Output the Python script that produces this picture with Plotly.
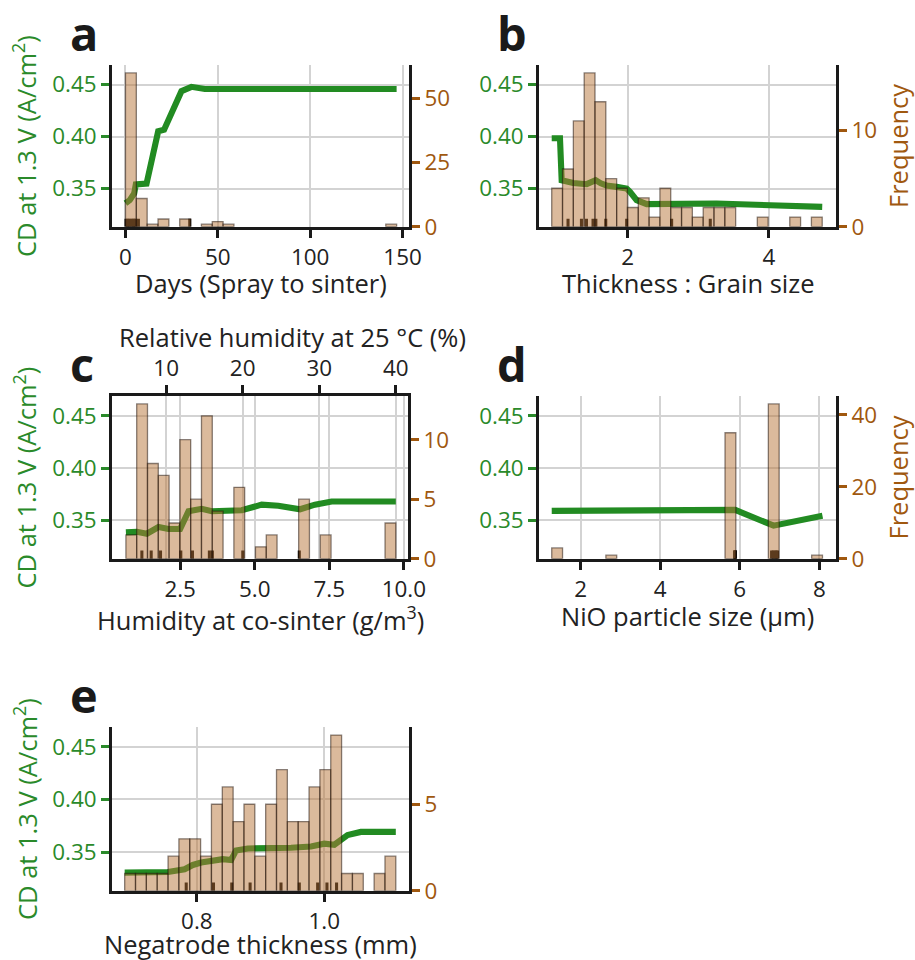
import numpy as np
import plotly.graph_objects as go

# design grid is 915 x 960; the page is drawn slightly larger and everything is stretched to it
BASE_W, BASE_H = 915, 960
W, H = 933, 978
SX, SY = W / BASE_W, H / BASE_H
FONT = "Open Sans"

# ---------------- data ----------------
N_BINS = 25
CD_RANGE = [0.3133, 0.4686]
CD_TICKS = [0.35, 0.40, 0.45]

# a: days between spraying and sintering
DAYS_HIST_RANGE = (0.0, 146.8)
DAYS_COUNTS = [60, 11, 1, 3, 0, 3, 0, 1, 2, 1, 0, 0, 0, 0, 0, 0, 0, 0, 0, 0, 0, 0, 0, 0, 1]
DAYS_PD_X = [0.0, 2.3, 4.7, 5.6, 11.4, 17.7, 20.9, 30.3, 35.7, 43.0, 146.8]
DAYS_PD_Y = [0.3358, 0.3388, 0.3452, 0.3540, 0.3548, 0.4050, 0.4065, 0.4436, 0.4478, 0.4457, 0.4457]
DAYS_DECILES = [0.3, 1.2, 2.0, 3.0, 4.0, 4.6, 5.5, 7.0, 34.8]
DAYS_XTICKS = [0, 50, 100, 150]
DAYS_FTICKS = [0, 25, 50]

# b: thickness to grain size ratio
RATIO_HIST_RANGE = (0.925, 4.755)
RATIO_COUNTS = [4, 6, 11, 16, 13, 5, 4, 2, 3, 1, 4, 2, 2, 1, 2, 2, 2, 0, 0, 1, 0, 0, 1, 0, 1]
RATIO_PD_X = [0.925, 1.042, 1.066, 1.231, 1.42, 1.547, 1.62, 1.70, 1.844, 1.986, 2.033, 2.127,
              2.27, 2.976, 3.26, 4.755]
RATIO_PD_Y = [0.3984, 0.3984, 0.3580, 0.3554, 0.3542, 0.3580, 0.3550, 0.3530, 0.3516, 0.3500,
              0.3468, 0.3388, 0.3350, 0.3350, 0.3356, 0.3324]
RATIO_DECILES = [1.156, 1.346, 1.417, 1.51, 1.55, 1.69, 1.986, 2.623, 3.17]
RATIO_XTICKS = [2, 4]
RATIO_FTICKS = [0, 10]

# c: absolute humidity at co-sintering
HUM_HIST_RANGE = (0.681, 9.732)
HUM_COUNTS = [2, 13, 8, 7, 3, 10, 5, 12, 4, 0, 6, 0, 1, 2, 0, 0, 5, 0, 2, 0, 0, 0, 0, 0, 3]
HUM_PD_X = [0.681, 1.049, 1.384, 1.775, 2.11, 2.5, 2.78, 3.225, 3.56, 4.565, 5.234, 5.79,
            6.52, 7.02, 7.58, 9.732]
HUM_PD_Y = [0.3385, 0.3390, 0.3372, 0.3436, 0.3417, 0.3417, 0.3587, 0.3610, 0.3587, 0.3596,
            0.3650, 0.3640, 0.3606, 0.3650, 0.3680, 0.3680]
HUM_DECILES = [1.217, 1.529, 1.842, 2.522, 2.913, 3.48, 3.58, 4.6, 6.495]
HUM_XTICKS = [2.5, 5.0, 7.5, 10.0]
HUM_FTICKS = [0, 5, 10]
RH_TICKS = [10, 20, 30, 40]
RH_PER_GM3, RH_OFFSET = 3.896, 2.09   # relative humidity (%) at 25 °C vs g/m³

# d: NiO particle size
NIO_HIST_RANGE = (1.27, 8.08)
NIO_COUNTS = [3, 0, 0, 0, 0, 1, 0, 0, 0, 0, 0, 0, 0, 0, 0, 0, 35, 0, 0, 0, 43, 0, 0, 0, 1]
NIO_PD_X = [1.27, 5.884, 6.85, 8.08]
NIO_PD_Y = [0.3590, 0.3600, 0.3449, 0.3543]
NIO_DECILES = [5.88, 5.88, 5.88, 5.88, 6.80, 6.84, 6.88, 6.92, 6.95]
NIO_XTICKS = [2, 4, 6, 8]
NIO_FTICKS = [0, 20, 40]

# e: negatrode thickness
NEG_HIST_RANGE = (0.6867, 1.1123)
NEG_COUNTS = [1, 1, 1, 1, 2, 3, 3, 2, 5, 6, 4, 5, 2, 5, 7, 4, 4, 6, 7, 9, 1, 1, 0, 1, 2]
NEG_PD_X = [0.6867, 0.7546, 0.7807, 0.7937, 0.8068, 0.8225, 0.8407, 0.8538, 0.8616, 0.8799,
            0.9269, 0.9478, 0.9791, 1.0, 1.0157, 1.0366, 1.0574, 1.1123]
NEG_PD_Y = [0.3305, 0.3311, 0.3337, 0.3378, 0.3401, 0.3420, 0.3433, 0.3426, 0.3516, 0.3535,
            0.3532, 0.3542, 0.3554, 0.3580, 0.3570, 0.3663, 0.3692, 0.3692]
NEG_DECILES = [0.7833, 0.8261, 0.8548, 0.8836, 0.9321, 0.9608, 0.9896, 1.0042, 1.0193]
NEG_XTICKS = [0.8, 1.0]
NEG_FTICKS = [0, 5]

# ---------------- styling ----------------
GREEN = "#2a8a2a"
LINE_GREEN = "rgb(34,139,34)"
BROWN = "#a0580f"
BAR_FILL = "rgba(184,118,58,0.5)"
BAR_EDGE = "rgba(25,12,4,0.5)"
GRID = "#d3d3d3"
TICK_SIZE = 22 * SX
TITLE_SIZE = 25 * SX
LETTER_SIZE = 46 * SX


def px_x(p):
    return p / BASE_W


def px_y(p):
    return 1 - p / BASE_H


# panel boxes on the design grid: left, right, top, bottom; xlab_y = centre of the x title
PANELS = [
    dict(key="a", box=(112, 409, 65, 226), xlab_y=282, xr=[-7.3, 153.5], hist=DAYS_HIST_RANGE,
         counts=DAYS_COUNTS, pdx=DAYS_PD_X, pdy=DAYS_PD_Y, dec=DAYS_DECILES, xt=DAYS_XTICKS,
         ft=DAYS_FTICKS, xfmt="d", xlabel="Days (Spray to sinter)", left_title=True, right_title=False),
    dict(key="b", box=(539, 836, 65, 226), xlab_y=282, xr=[0.745, 4.95], hist=RATIO_HIST_RANGE,
         counts=RATIO_COUNTS, pdx=RATIO_PD_X, pdy=RATIO_PD_Y, dec=RATIO_DECILES, xt=RATIO_XTICKS,
         ft=RATIO_FTICKS, xfmt="d", xlabel="Thickness : Grain size", left_title=False, right_title=True),
    dict(key="c", box=(112, 408, 395, 557), xlab_y=617, xr=[0.215, 10.14], hist=HUM_HIST_RANGE,
         counts=HUM_COUNTS, pdx=HUM_PD_X, pdy=HUM_PD_Y, dec=HUM_DECILES, xt=HUM_XTICKS,
         ft=HUM_FTICKS, xfmt=".1f", xlabel="Humidity at co-sinter (g/m<sup>3</sup>)",
         left_title=True, right_title=False),
    dict(key="d", box=(539, 836, 395, 557), xlab_y=614, xr=[0.95, 8.42], hist=NIO_HIST_RANGE,
         counts=NIO_COUNTS, pdx=NIO_PD_X, pdy=NIO_PD_Y, dec=NIO_DECILES, xt=NIO_XTICKS,
         ft=NIO_FTICKS, xfmt="d", xlabel="NiO particle size (μm)", left_title=False, right_title=True),
    dict(key="e", box=(112, 409, 725, 888), xlab_y=941, xr=[0.6668, 1.133], hist=NEG_HIST_RANGE,
         counts=NEG_COUNTS, pdx=NEG_PD_X, pdy=NEG_PD_Y, dec=NEG_DECILES, xt=NEG_XTICKS,
         ft=NEG_FTICKS, xfmt=".1f", xlabel="Negatrode thickness (mm)", left_title=True, right_title=False),
]

fig = go.Figure()
layout = dict(
    width=W, height=H,
    margin=dict(l=0, r=0, t=0, b=0),
    paper_bgcolor="white", plot_bgcolor="white",
    showlegend=False,
    font=dict(family=FONT, size=TICK_SIZE, color="#222222"),
)
annotations = []


def axis_common():
    return dict(showline=True, linecolor="#1a1a1a", linewidth=2.5 * SX, ticks="outside",
                ticklen=8 * SX, tickwidth=2.5 * SX, zeroline=False,
                tickfont=dict(family=FONT, size=TICK_SIZE))


for i, p in enumerate(PANELS):
    left, right, top, bottom = p["box"]
    xn = "" if i == 0 else str(i + 1)
    yn = "" if i == 0 else str(2 * i + 1)
    y2n = str(2 * i + 2)
    xref, yref, y2ref = "x" + xn, "y" + yn, "y" + y2n

    xdom = [px_x(left), px_x(right)]
    ydom = [px_y(bottom), px_y(top)]

    lo, hi = p["hist"]
    edges = np.linspace(lo, hi, N_BINS + 1)
    centers = (edges[:-1] + edges[1:]) / 2
    binw = edges[1] - edges[0]
    counts = np.array(p["counts"])
    keep = counts > 0

    # partial dependence curve
    fig.add_trace(go.Scatter(x=p["pdx"], y=p["pdy"], mode="lines",
                             line=dict(color=LINE_GREEN, width=6 * SX),
                             xaxis=xref, yaxis=yref, hoverinfo="skip"))
    # decile marks along the bottom
    rug_top = CD_RANGE[0] + 0.05 * (CD_RANGE[1] - CD_RANGE[0])
    rx, ry = [], []
    for d in p["dec"]:
        rx += [d, d, None]
        ry += [CD_RANGE[0], rug_top, None]
    fig.add_trace(go.Scatter(x=rx, y=ry, mode="lines", line=dict(color="black", width=3 * SX),
                             xaxis=xref, yaxis=yref, hoverinfo="skip"))
    # histogram on the twin axis
    fig.add_trace(go.Bar(x=centers[keep], y=counts[keep], width=binw,
                         marker=dict(color=BAR_FILL, line=dict(color=BAR_EDGE, width=1.3)),
                         xaxis=xref, yaxis=y2ref, hoverinfo="skip"))

    xa = axis_common()
    xa.update(domain=xdom, anchor=yref, range=p["xr"], tickvals=p["xt"],
              tickformat=p["xfmt"], showgrid=True, gridcolor=GRID, gridwidth=2,
              tickcolor="#1a1a1a", tickfont=dict(family=FONT, size=TICK_SIZE, color="#222222"))
    layout["xaxis" + xn] = xa

    ya = axis_common()
    ya.update(domain=ydom, anchor=xref, range=CD_RANGE, tickvals=CD_TICKS, tickformat=".2f",
              showgrid=True, gridcolor=GRID, gridwidth=2, tickcolor=GREEN,
              tickfont=dict(family=FONT, size=TICK_SIZE, color=GREEN))
    layout["yaxis" + yn] = ya

    y2 = axis_common()
    y2.update(overlaying=yref, side="right", anchor=xref, range=[0, 1.05 * counts.max()],
              tickvals=p["ft"], showgrid=False, tickcolor=BROWN,
              tickfont=dict(family=FONT, size=TICK_SIZE, color=BROWN))
    layout["yaxis" + y2n] = y2

    cx = (left + right) / 2
    cy = (top + bottom) / 2
    # panel letter
    annotations.append(dict(text="<b>%s</b>" % p["key"], x=px_x(left - 44), y=px_y(top - 32),
                            xref="paper", yref="paper", xanchor="left", yanchor="middle",
                            showarrow=False, font=dict(family=FONT, size=LETTER_SIZE, color="#1a1a1a")))
    # bottom axis title
    annotations.append(dict(text=p["xlabel"], x=px_x(cx), y=px_y(p["xlab_y"]),
                            xref="paper", yref="paper", xanchor="center", yanchor="middle",
                            showarrow=False, font=dict(family=FONT, size=TITLE_SIZE, color="#222222")))
    if p["left_title"]:
        annotations.append(dict(text="CD at 1.3 V (A/cm<sup>2</sup>)", x=px_x(25), y=px_y(cy),
                                xref="paper", yref="paper", xanchor="center", yanchor="middle",
                                textangle=-90, showarrow=False,
                                font=dict(family=FONT, size=TITLE_SIZE, color=GREEN)))
    if p["right_title"]:
        annotations.append(dict(text="Frequency", x=px_x(898), y=px_y(cy),
                                xref="paper", yref="paper", xanchor="center", yanchor="middle",
                                textangle=-90, showarrow=False,
                                font=dict(family=FONT, size=TITLE_SIZE, color=BROWN)))

    if p["key"] == "c":
        # relative humidity scale along the top of panel c
        rh_range = [RH_PER_GM3 * v + RH_OFFSET for v in p["xr"]]
        xt = axis_common()
        xt.update(overlaying=xref, side="top", anchor=yref, range=rh_range, tickvals=RH_TICKS,
                  showgrid=True, gridcolor=GRID, gridwidth=2, tickcolor="#1a1a1a",
                  tickfont=dict(family=FONT, size=TICK_SIZE, color="#222222"))
        layout["xaxis6"] = xt
        fig.add_trace(go.Scatter(x=[rh_range[0]], y=[CD_RANGE[0]], mode="markers",
                                 marker=dict(opacity=0), xaxis="x6", yaxis=yref, hoverinfo="skip"))
        annotations.append(dict(text="Relative humidity at 25 °C (%)", x=px_x(292), y=px_y(336),
                                xref="paper", yref="paper", xanchor="center", yanchor="middle",
                                showarrow=False,
                                font=dict(family=FONT, size=TITLE_SIZE, color="#222222")))

layout["annotations"] = annotations
fig.update_layout(**layout)
fig.write_html("out.html", post_script="document.body.style.margin='0px';"
                                       "document.documentElement.style.overflow='hidden';")
